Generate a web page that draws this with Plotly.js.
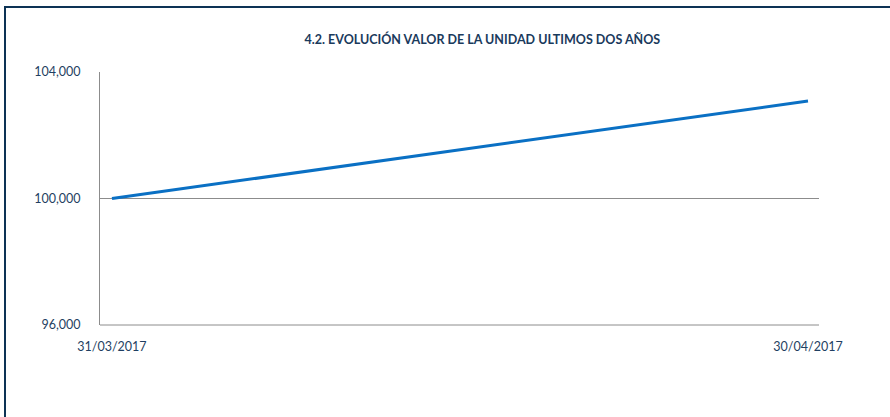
<!DOCTYPE html>
<html><head><meta charset="utf-8">
<script src="https://cdn.plot.ly/plotly-3.0.1.min.js"></script>
<style>
html,body{margin:0;padding:0;background:#fff;}
#wrap{position:relative;width:890px;height:417px;}
#chart{position:absolute;left:0;top:0;width:890px;height:417px;}
#frame{position:absolute;left:4px;top:6px;width:886px;height:411px;border-left:2px solid #0d3355;border-top:2px solid #0d3355;box-sizing:border-box;pointer-events:none;}
</style></head>
<body><div id="wrap"><div id="chart"></div><div id="frame"></div></div>
<script>
const dates = ["31/03/2017", "30/04/2017"];
const values = [100000, 103080];
const yTicks = [96000, 100000, 104000];
const titleText = "4.2. EVOLUCIÓN VALOR DE LA UNIDAD ULTIMOS DOS AÑOS";

const txtColor = "#1f3f62";
Plotly.newPlot("chart", [{
  x: dates, y: values, type: "scatter", mode: "lines",
  line: {color: "#0a70c4", width: 3}, hoverinfo: "skip"
}], {
  width: 890, height: 417,
  margin: {l: 100, r: 71, t: 72, b: 92},
  paper_bgcolor: "#fff", plot_bgcolor: "#fff",
  showlegend: false,
  font: {family: "Lato, 'Open Sans', sans-serif", size: 12, color: txtColor},
  title: {text: "<b>" + titleText + "</b>", x: 0.542, xanchor: "center", y: 0.905, yanchor: "middle",
          font: {family: "Lato, 'Open Sans', sans-serif", size: 12.5, color: "#1a3a5c"}},
  xaxis: {type: "category", range: [-0.0172, 1.0158], showgrid: false, zeroline: false,
          showline: false, ticks: "", ticklabelstandoff: 12,
          tickfont: {size: 12.5, color: txtColor}},
  yaxis: {range: [96000, 104000], tickvals: yTicks, tickformat: ",.0f",
          showgrid: true, gridcolor: "#8c8c8c", gridwidth: 1, zeroline: false,
          showline: true, linecolor: "#8c8c8c", linewidth: 1, ticks: "", ticklabelstandoff: 16,
          tickfont: {size: 12.5, color: txtColor}},
  shapes: [{type: "line", xref: "paper", yref: "paper", x0: 0, x1: 1, y0: 0, y1: 0,
            line: {color: "#8c8c8c", width: 1}}]
}, {staticPlot: true});
</script></body></html>
